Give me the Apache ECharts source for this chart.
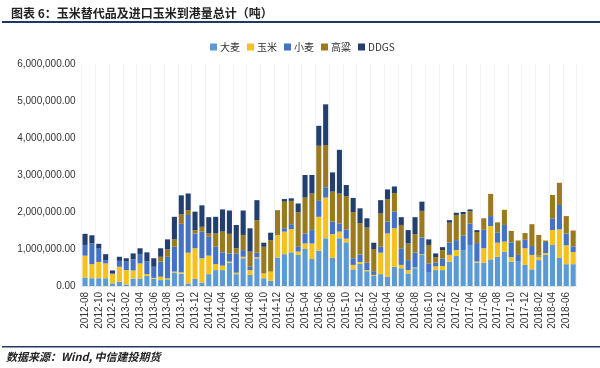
<!DOCTYPE html>
<html><head><meta charset="utf-8">
<script src="https://cdn.jsdelivr.net/npm/echarts@6/dist/echarts.min.js"></script>
<style>html,body{margin:0;padding:0;background:#fff}#c{width:600px;height:368px}</style>
</head><body><div id="c"></div>
<script>
const months = ["2012-08","2012-09","2012-10","2012-11","2012-12","2013-01","2013-02","2013-03","2013-04","2013-05","2013-06","2013-07","2013-08","2013-09","2013-10","2013-11","2013-12","2014-01","2014-02","2014-03","2014-04","2014-05","2014-06","2014-07","2014-08","2014-09","2014-10","2014-11","2014-12","2015-01","2015-02","2015-03","2015-04","2015-05","2015-06","2015-07","2015-08","2015-09","2015-10","2015-11","2015-12","2016-01","2016-02","2016-03","2016-04","2016-05","2016-06","2016-07","2016-08","2016-09","2016-10","2016-11","2016-12","2017-01","2017-02","2017-03","2017-04","2017-05","2017-06","2017-07","2017-08","2017-09","2017-10","2017-11","2017-12","2018-01","2018-02","2018-03","2018-04","2018-05","2018-06","2018-07"];
const barley = [230000,210000,210000,210000,70000,120000,40000,200000,200000,270000,200000,160000,180000,360000,330000,70000,190000,90000,320000,430000,430000,630000,320000,750000,300000,750000,210000,140000,770000,860000,910000,840000,1000000,730000,950000,1290000,770000,1290000,1180000,450000,600000,400000,270000,320000,250000,520000,480000,340000,480000,840000,360000,430000,430000,660000,810000,970000,1110000,630000,630000,720000,790000,930000,660000,660000,570000,450000,700000,840000,1110000,770000,590000,590000];
const corn = [590000,380000,440000,400000,250000,400000,390000,220000,410000,50000,20000,90000,30000,30000,40000,830000,830000,660000,500000,160000,120000,30000,40000,40000,130000,30000,130000,250000,610000,610000,630000,90000,150000,420000,920000,1100000,630000,180000,100000,120000,50000,30000,30000,580000,1170000,1040000,90000,90000,20000,20000,0,100000,110000,180000,160000,0,0,30000,390000,900000,380000,270000,120000,0,450000,390000,90000,50000,400000,760000,510000,330000];
const wheat = [290000,560000,360000,90000,20000,160000,230000,300000,240000,350000,300000,410000,580000,670000,1310000,1020000,400000,720000,510000,470000,360000,220000,520000,180000,90000,120000,0,0,0,90000,130000,130000,270000,360000,430000,280000,340000,220000,250000,180000,200000,200000,100000,160000,320000,450000,450000,270000,400000,450000,250000,100000,200000,330000,270000,400000,580000,500000,500000,270000,270000,450000,400000,180000,230000,240000,30000,300000,320000,660000,320000,150000];
const sorghum = [0,0,0,0,0,0,0,0,0,0,0,130000,200000,200000,260000,130000,90000,130000,90000,360000,560000,530000,140000,410000,410000,880000,720000,850000,670000,720000,630000,930000,970000,990000,1490000,1140000,810000,810000,900000,1250000,850000,950000,600000,900000,600000,500000,630000,450000,500000,720000,500000,150000,230000,540000,680000,570000,330000,300000,310000,600000,280000,410000,310000,390000,180000,590000,560000,40000,630000,600000,470000,430000];
const ddgs = [300000,220000,130000,160000,80000,110000,90000,160000,170000,240000,230000,230000,270000,610000,510000,450000,500000,580000,440000,450000,600000,630000,630000,660000,630000,540000,110000,200000,0,70000,70000,240000,610000,500000,540000,1100000,520000,1180000,300000,380000,400000,250000,170000,360000,270000,180000,210000,360000,460000,250000,150000,100000,80000,70000,60000,60000,50000,50000,0,0,0,0,0,0,0,0,0,0,0,0,0,0];
const seriesNames = ["大麦","玉米","小麦","高粱","DDGS"];
const colors = ["#5B9BD5","#F4C21F","#4472C4","#9A7A1E","#233F6E"];
const yTicks = [0,1000000,2000000,3000000,4000000,5000000,6000000];

const chart = echarts.init(document.getElementById('c'), null, {renderer:'canvas'});
const font = '"Noto Sans CJK SC","Noto Sans",sans-serif';
const dataSets = [barley, corn, wheat, sorghum, ddgs];
chart.setOption({
  animation:false,
  title:{text:'图表 6：玉米替代品及进口玉米到港量总计（吨）', left:6, top:2,
    textStyle:{fontSize:12, fontWeight:'bold', color:'#222', fontFamily:font}},
  legend:{data:seriesNames, top:37, left:205, itemWidth:7, itemHeight:7, itemGap:7,
    icon:'rect', textStyle:{fontSize:10, color:'#333', fontFamily:font, padding:[0,0,0,-2]}},
  grid:{left:81.6, right:23.4, top:64, bottom:82},
  xAxis:{type:'category', data:months,
    axisLine:{show:true, lineStyle:{color:'#e3e3e3'}}, axisTick:{show:false},
    axisLabel:{interval:1, rotate:90, fontSize:10, color:'#333', fontFamily:'Liberation Sans, Arial', margin:6},
    splitLine:{show:true, interval:1, lineStyle:{color:'#f4f4f4'}}},
  yAxis:{type:'value', min:0, max:6000000, interval:1000000,
    axisLine:{show:false}, axisTick:{show:false}, splitLine:{show:false},
    axisLabel:{fontSize:10, color:'#333', fontFamily:'Liberation Sans, Arial', margin:6,
      formatter:v=>v.toLocaleString('en-US',{minimumFractionDigits:2, maximumFractionDigits:2})}},
  series: seriesNames.map((n,i)=>({name:n, type:'bar', stack:'total', data:dataSets[i],
    barCategoryGap:'26%', itemStyle:{color:colors[i]}})),
  graphic:[
    {type:'rect', shape:{x:2, y:21, width:598, height:2}, style:{fill:'#1F3864'}},
    {type:'rect', shape:{x:2, y:346, width:598, height:1.5}, style:{fill:'#1F3864'}},
    {type:'text', left:6, top:351, style:{text:'数据来源：Wind, 中信建投期货',
      font:'italic bold 11px "Noto Sans CJK SC"', fill:'#222'}}
  ]
});
</script></body></html>
